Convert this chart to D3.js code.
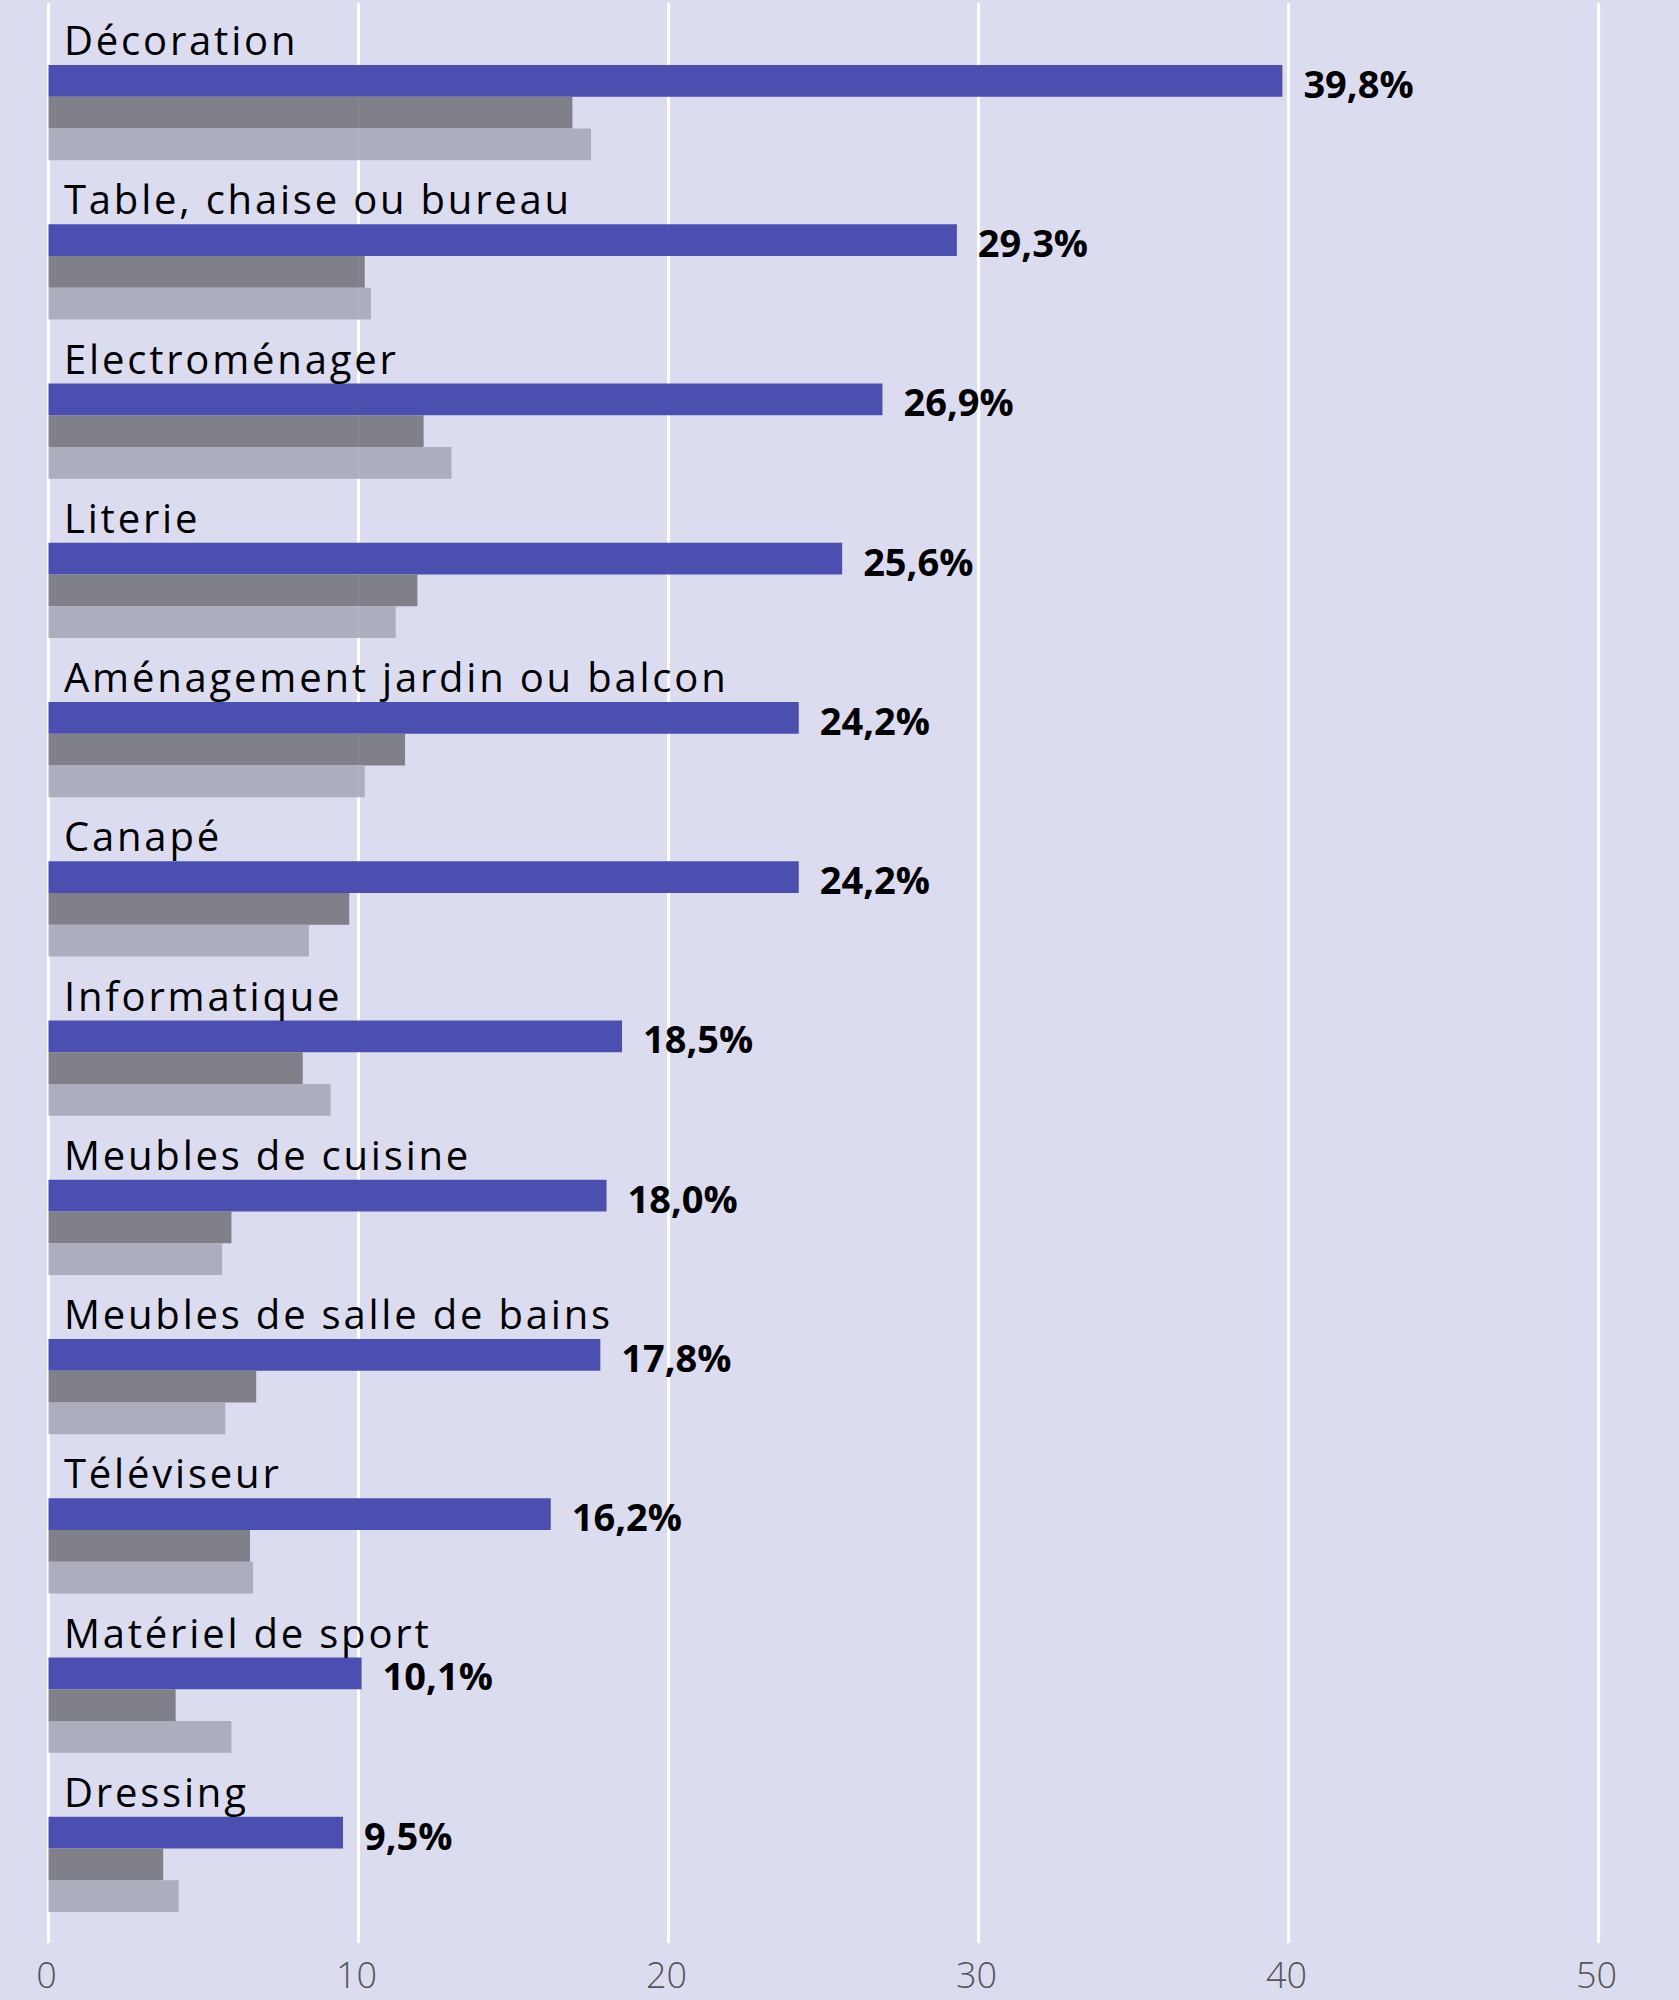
<!DOCTYPE html>
<html>
<head>
<meta charset="utf-8">
<script src="https://cdn.jsdelivr.net/npm/d3@7"></script>
<style>
  body { margin: 0; background: #dcdcf0; }
  .chart text { font-family: "Open Sans", sans-serif; }
</style>
</head>
<body>
<div class="chart"></div>
<script>
// Chart data
const categories = [
  'Décoration', 'Table, chaise ou bureau', 'Electroménager', 'Literie',
  'Aménagement jardin ou balcon', 'Canapé', 'Informatique', 'Meubles de cuisine',
  'Meubles de salle de bains', 'Téléviseur', 'Matériel de sport', 'Dressing'
];
const mainValues = [39.8, 29.3, 26.9, 25.6, 24.2, 24.2, 18.5, 18.0, 17.8, 16.2, 10.1, 9.5];
const darkValues = [16.9, 10.2, 12.1, 11.9, 11.5, 9.7, 8.2, 5.9, 6.7, 6.5, 4.1, 3.7];
const lightValues = [17.5, 10.4, 13.0, 11.2, 10.2, 8.4, 9.1, 5.6, 5.7, 6.6, 5.9, 4.2];
const tickValues = [0, 10, 20, 30, 40, 50];
const seriesKeys = ['main', 'dark', 'light'];

// Set up sizes
const outerWidth = 1679;
const outerHeight = 2000;
const colors = { main: '#4a4fb0', dark: '#75757f', light: '#a7a8b7' };
const opacity = { main: 1, dark: 0.9, light: 0.9 };

const rows = categories.map((c, i) => ({
  category: c,
  main: mainValues[i],
  dark: darkValues[i],
  light: lightValues[i]
}));

const svg = d3.select('.chart')
  .append('svg')
    .attr('width', outerWidth)
    .attr('height', outerHeight);

svg.append('rect')
  .attr('width', outerWidth)
  .attr('height', outerHeight)
  .attr('fill', '#dcdcf0');

const x = d3.scaleLinear()
  .domain([0, 50])
  .range([48.5, 1598.6]);

// one band per category, label sits above the bars
const y = d3.scaleBand()
  .domain(categories)
  .range([5, 5 + 159.25 * categories.length])
  .padding(0);

const ySub = d3.scaleBand()
  .domain(seriesKeys)
  .range([60, 155.25])
  .padding(0);

// Gridlines
svg.append('g')
  .selectAll('line')
  .data(tickValues)
  .enter().append('line')
    .attr('x1', d => x(d))
    .attr('x2', d => x(d))
    .attr('y1', 3)
    .attr('y2', 1943)
    .attr('stroke', '#ffffff')
    .attr('stroke-width', 3);

// Tick labels
svg.append('g')
  .selectAll('text')
  .data(tickValues)
  .enter().append('text')
    .attr('x', d => x(d) - 2)
    .attr('y', 1988)
    .attr('text-anchor', 'middle')
    .attr('font-size', 36)
    .attr('font-weight', 300)
    .attr('fill', '#555555')
    .text(d => d);

// Groups
const groups = svg.append('g')
  .selectAll('g')
  .data(rows)
  .enter().append('g')
    .attr('transform', d => `translate(0,${y(d.category)})`);

groups.selectAll('rect')
  .data(d => seriesKeys.map(k => ({ key: k, value: d[k] })))
  .enter().append('rect')
    .attr('x', x(0))
    .attr('y', d => ySub(d.key))
    .attr('width', d => x(d.value) - x(0))
    .attr('height', ySub.bandwidth())
    .attr('fill', d => colors[d.key])
    .attr('fill-opacity', d => opacity[d.key]);

groups.append('text')
  .attr('x', 64)
  .attr('y', ySub('main') - 10)
  .attr('font-size', 40)
  .attr('letter-spacing', 2.8)
  .attr('fill', '#000000')
  .text(d => d.category);

const fmt = d3.format('.1f');
groups.append('text')
  .attr('x', d => x(d.main) + 21)
  .attr('y', ySub('main') + ySub.bandwidth() + 1)
  .attr('font-size', 38)
  .attr('font-weight', 700)
  .attr('fill', '#000000')
  .text(d => fmt(d.main).replace('.', ',') + '%');
</script>
</body>
</html>
